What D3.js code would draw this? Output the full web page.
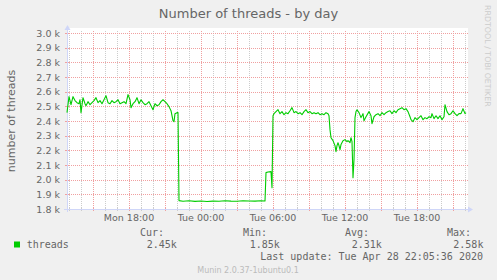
<!DOCTYPE html>
<html><head><meta charset="utf-8">
<script src="https://cdn.jsdelivr.net/npm/d3@7"></script>
<style>
html,body{margin:0;padding:0;background:#F0F0F0;}
svg{display:block;}
</style></head>
<body>
<script>
// ---- data ----
const title = "Number of threads - by day";
const yLabel = "number of threads";
const seriesName = "threads";
const times = [
"27 12:50","27 13:00","27 13:10","27 13:20","27 13:30","27 13:40","27 13:50","27 13:55","27 14:00","27 14:10",
"27 14:20","27 14:25","27 14:35","27 14:45","27 14:55","27 15:05","27 15:15","27 15:25","27 15:35","27 15:45",
"27 15:55","27 16:05","27 16:15","27 16:25","27 16:35","27 16:45","27 16:55","27 17:05","27 17:15","27 17:25",
"27 17:35","27 17:45","27 17:55","27 18:05","27 18:10","27 18:20","27 18:30","27 18:40","27 18:50","27 19:00",
"27 19:10","27 19:20","27 19:30","27 19:40","27 19:50","27 20:00","27 20:10","27 20:20","27 20:30","27 20:40",
"27 20:50","27 21:00","27 21:10","27 21:20","27 21:30","27 21:35","27 21:40","27 21:45","27 21:50","27 22:00",
"27 22:05","27 22:10","27 22:30","27 23:00","27 23:30",
"28 00:00","28 00:30","28 01:00","28 01:30","28 02:00","28 02:30","28 03:00","28 03:30","28 04:00","28 04:30",
"28 05:00","28 05:20","28 05:25","28 05:35","28 05:50","28 05:55","28 06:00","28 06:05","28 06:15","28 06:25",
"28 06:35","28 06:45","28 06:55","28 07:05","28 07:15","28 07:25","28 07:35","28 07:45","28 07:55","28 08:05",
"28 08:15","28 08:25","28 08:35","28 08:45","28 08:55","28 09:05","28 09:15","28 09:25","28 09:35","28 09:45",
"28 09:55","28 10:05","28 10:15","28 10:25","28 10:35","28 10:40","28 10:45","28 10:50","28 11:00","28 11:10",
"28 11:15","28 11:20","28 11:25","28 11:30","28 11:35","28 11:40","28 11:50","28 12:00","28 12:10","28 12:15",
"28 12:25","28 12:30","28 12:35","28 12:40","28 12:45","28 12:50","28 12:55","28 13:00","28 13:10","28 13:20",
"28 13:30","28 13:35","28 13:45","28 14:00","28 14:10","28 14:15","28 14:25","28 14:35","28 14:45","28 14:55",
"28 15:05","28 15:15","28 15:25","28 15:35","28 15:45","28 15:55","28 16:05","28 16:15","28 16:25","28 16:35",
"28 16:45","28 16:55","28 17:05","28 17:15","28 17:25","28 17:30","28 17:40","28 17:50","28 18:00","28 18:10",
"28 18:20","28 18:30","28 18:40","28 18:50","28 19:00","28 19:10","28 19:15","28 19:25","28 19:35","28 19:45",
"28 19:55","28 20:05","28 20:15","28 20:20","28 20:30","28 20:40","28 20:50","28 21:00","28 21:10","28 21:20",
"28 21:30","28 21:40","28 21:50","28 22:00","28 22:05"
];
const values = [
2457,2566,2511,2566,2539,2525,2518,2545,2457,2559,
2518,2504,2532,2511,2525,2539,2559,2525,2539,2518,
2545,2573,2525,2518,2539,2525,2532,2545,2518,2525,
2532,2518,2580,2545,2491,2518,2532,2559,2518,2545,
2525,2511,2518,2532,2504,2477,2518,2504,2511,2532,
2545,2532,2518,2498,2470,2436,2402,2395,2450,2457,
2457,1857,1853,1856,1852,
1855,1851,1854,1853,1856,1854,1853,1856,1855,1854,
1856,1855,2048,2052,2055,1945,2436,2450,2464,2477,
2450,2464,2443,2457,2450,2470,2491,2457,2464,2450,
2457,2443,2464,2477,2457,2464,2450,2457,2450,2457,
2443,2450,2443,2457,2450,2436,2341,2286,2266,2232,
2191,2232,2252,2232,2205,2239,2266,2273,2259,2266,
2252,2286,2259,2014,2136,2423,2464,2477,2457,2423,
2450,2402,2429,2464,2436,2382,2429,2443,2450,2436,
2457,2443,2457,2464,2470,2450,2470,2457,2477,2484,
2491,2477,2484,2464,2429,2409,2395,2423,2409,2423,
2436,2409,2423,2416,2429,2423,2450,2416,2436,2416,
2436,2409,2429,2511,2464,2443,2450,2470,2450,2436,
2450,2450,2484,2450,2457
];
const domainStart = "27 12:50";
const domainEnd = "28 22:10";
const yMin = 1800, yMax = 3000, yStep = 100;
const legendHeads = ["Cur:","Min:","Avg:","Max:"];
const legendValues = ["2.45k","1.85k","2.31k","2.58k"];
const lastUpdate = "Last update: Tue Apr 28 22:05:36 2020";
const footer = "Munin 2.0.37-1ubuntu0.1";
const watermark = "RRDTOOL / TOBI OETIKER";

// ---- drawing ----
const W = 497, H = 280;
const parse = d3.timeParse("%Y-%m-%d %H:%M");
const toDate = s => parse("2020-04-" + s);
const data = times.map((t,i)=>({t:toDate(t), v:values[i]}));

const L = 67, R = 467, T = 33, B = 209;
const x = d3.scaleTime().domain([toDate(domainStart), toDate(domainEnd)]).range([L, R]);
const y = d3.scaleLinear().domain([yMin, yMax]).range([B, T]);

const svg = d3.select("body").append("svg").attr("width", W).attr("height", H)
  .style("font-family", "'DejaVu Sans', sans-serif");
svg.append("rect").attr("width", W).attr("height", H).attr("fill", "#F0F0F0");
svg.append("rect").attr("x", L).attr("y", T - 5).attr("width", R - L + 1).attr("height", B - T + 5).attr("fill", "#FFFFFF");

const FONT = "#666666", MGRID = "#F0A0A0", GRID = "#CCCCCC", AXIS = "#CFD6F8";

// vertical grid
const hours = x.ticks(d3.timeHour.every(1));
const g = svg.append("g").attr("shape-rendering", "crispEdges");
hours.forEach(h => {
  const major = h.getHours() % 3 === 0;
  const px = Math.round(x(h)) + 0.5;
  g.append("line").attr("x1", px).attr("x2", px).attr("y1", T - 2).attr("y2", B)
    .attr("stroke", major ? MGRID : GRID).attr("stroke-dasharray", "1,1");
  g.append("line").attr("x1", px).attr("x2", px).attr("y1", B - 2).attr("y2", B + 2)
    .attr("stroke", major ? MGRID : GRID);
});
// horizontal grid
const yTicks = d3.range(yMin, yMax + 1, yStep);
yTicks.forEach(v => {
  const py = Math.round(y(v)) + 0.5;
  g.append("line").attr("x1", L).attr("x2", R + 1).attr("y1", py).attr("y2", py)
    .attr("stroke", MGRID).attr("stroke-dasharray", "1,1");
  g.append("line").attr("x1", L - 2).attr("x2", L + 2).attr("y1", py).attr("y2", py)
    .attr("stroke", MGRID);
});

// y tick labels
svg.append("g").selectAll("text").data(yTicks).join("text")
  .attr("x", 60).attr("y", d => y(d) + 3.5)
  .attr("text-anchor", "end").attr("font-size", "9.5px").attr("fill", FONT)
  .text(d => d3.format(".1f")(d / 1000) + " k");

// x tick labels
const xTicks = x.ticks(d3.timeHour.every(6));
const fmt = d3.timeFormat("%a %H:%M");
svg.append("g").selectAll("text").data(xTicks).join("text")
  .attr("x", d => x(d)).attr("y", 221)
  .attr("text-anchor", "middle").attr("font-size", "9.5px").attr("fill", FONT)
  .text(d => fmt(d));

// axes
const ax = svg.append("g").attr("shape-rendering", "crispEdges");
ax.append("line").attr("x1", L - 3).attr("x2", R + 3).attr("y1", B + 0.5).attr("y2", B + 0.5).attr("stroke", AXIS);
ax.append("line").attr("x1", L + 0.5).attr("x2", L + 0.5).attr("y1", B + 3).attr("y2", T - 4).attr("stroke", AXIS);
svg.append("path").attr("d", `M${R+1},${B-2.5}L${R+6},${B+0.5}L${R+1},${B+3.5}Z`).attr("fill", AXIS);
svg.append("path").attr("d", `M${L-2.5},${T-3}L${L+0.5},${T-8}L${L+3.5},${T-3}Z`).attr("fill", AXIS);

// series line
const line = d3.line().x(d => x(d.t)).y(d => y(d.v));
svg.append("path").datum(data).attr("d", line)
  .attr("fill", "none").attr("stroke", "#00CC00").attr("stroke-width", 1.1)
  .attr("stroke-linejoin", "round");

// title
svg.append("text").attr("x", 248.5).attr("y", 18).attr("text-anchor", "middle")
  .attr("font-size", "13px").attr("fill", FONT).text(title);
// y label
svg.append("text").attr("transform", `translate(15,${(T + B) / 2}) rotate(-90)`)
  .attr("text-anchor", "middle").attr("font-size", "11px").attr("fill", FONT).text(yLabel);
// watermark
svg.append("text").attr("transform", "translate(485,5) rotate(90)")
  .attr("font-size", "7.9px").attr("fill", "#CCCCCC").text(watermark);

// legend
const mono = "'DejaVu Sans Mono', monospace";
const headX = [140, 243, 345, 447];
const valX = [146.7, 249.7, 351.7, 453.3];
svg.append("g").selectAll("text").data(legendHeads).join("text")
  .attr("x", (d, i) => headX[i]).attr("y", 236).attr("font-family", mono)
  .attr("font-size", "10px").attr("fill", FONT).text(d => d);
svg.append("g").selectAll("text").data(legendValues).join("text")
  .attr("x", (d, i) => valX[i]).attr("y", 248).attr("font-family", mono)
  .attr("font-size", "10px").attr("fill", FONT).text(d => d);
svg.append("rect").attr("x", 14).attr("y", 241.5).attr("width", 6).attr("height", 6).attr("fill", "#00CC00");
svg.append("text").attr("x", 26.7).attr("y", 248).attr("font-family", mono)
  .attr("font-size", "10px").attr("fill", FONT).text(seriesName);
svg.append("text").attr("x", 483).attr("y", 260).attr("text-anchor", "end").attr("font-family", mono)
  .attr("font-size", "10px").attr("fill", FONT).text(lastUpdate);
svg.append("text").attr("x", 248).attr("y", 272.5).attr("text-anchor", "middle")
  .attr("font-size", "8px").attr("fill", "#BBBBBB").text(footer);
</script>
</body></html>
